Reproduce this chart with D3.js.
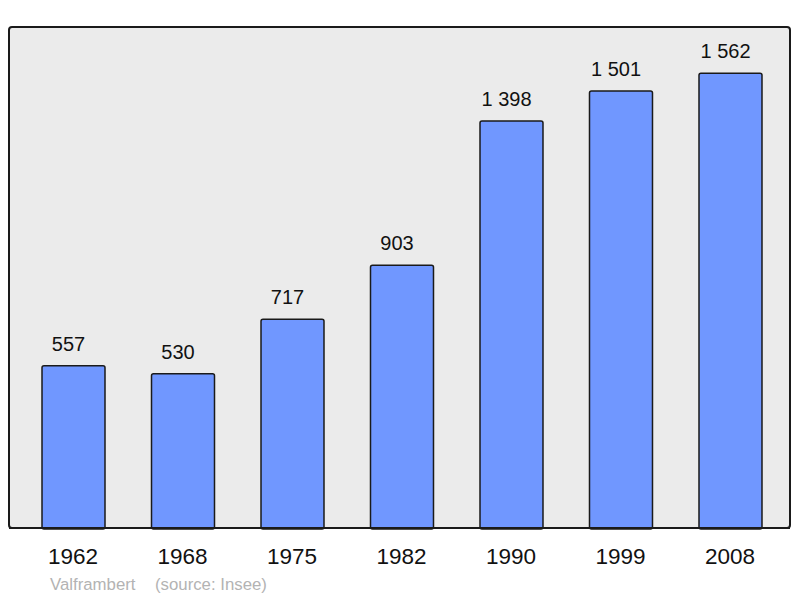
<!DOCTYPE html>
<html><head><meta charset="utf-8">
<script src="https://cdn.jsdelivr.net/npm/d3@7"></script>
<style>html,body{margin:0;padding:0;background:#fff;}</style>
</head><body>
<svg id="c" width="800" height="598"></svg>
<script>
const years = ["1962","1968","1975","1982","1990","1999","2008"];
const population = [557, 530, 717, 903, 1398, 1501, 1562];
const valueLabels = ["557","530","717","903","1 398","1 501","1 562"];
const placeName = "Valframbert";
const sourceText = "(source: Insee)";

const svg = d3.select("#c");
const font = "'Liberation Sans', Arial, sans-serif";

// plot frame
svg.append("rect").attr("x", 9).attr("y", 27).attr("width", 781).attr("height", 501)
  .attr("rx", 3).attr("fill", "#ebebeb").attr("stroke", "#1a1a1a").attr("stroke-width", 2);

const x = d3.scaleBand().domain(years).range([18.75, 785.25]).paddingInner(0.4247).paddingOuter(0.2124);
const y = d3.scaleLinear().domain([0, 1721]).range([528, 27]);

svg.selectAll("rect.bar").data(population).join("rect").attr("class","bar")
  .attr("x", (d,i) => x(years[i]))
  .attr("y", d => y(d))
  .attr("width", x.bandwidth())
  .attr("height", d => y(0) - y(d) + 1)
  .attr("rx", 2)
  .attr("fill", "#7097ff").attr("stroke", "#1a1a1a").attr("stroke-width", 1.5);

// redraw bottom edge of frame over bars
svg.append("line").attr("x1", 9).attr("x2", 790).attr("y1", 528).attr("y2", 528)
  .attr("stroke", "#1a1a1a").attr("stroke-width", 2);

svg.selectAll("text.val").data(population).join("text").attr("class","val")
  .attr("x", (d,i) => x(years[i]) + x.bandwidth()/2 - 5)
  .attr("y", d => y(d) - 15)
  .attr("text-anchor", "middle").attr("font-family", font).attr("font-size", 20)
  .attr("fill", "#111").text((d,i) => valueLabels[i]);

const xAxis = svg.append("g").attr("transform", "translate(0,528)")
  .call(d3.axisBottom(x).tickSize(0).tickPadding(36));
xAxis.select(".domain").remove();
xAxis.selectAll("text").attr("font-family", font).attr("font-size", 22.5).attr("fill", "#111").attr("dy", 0)
  .attr("dx", -0.5);

svg.append("text").attr("x", 50).attr("y", 590).attr("font-family", font).attr("font-size", 16.8)
  .attr("fill", "#b3b3b3").text(placeName);
svg.append("text").attr("x", 155).attr("y", 590).attr("font-family", font).attr("font-size", 16.8)
  .attr("fill", "#b3b3b3").text(sourceText);
</script>
</body></html>
